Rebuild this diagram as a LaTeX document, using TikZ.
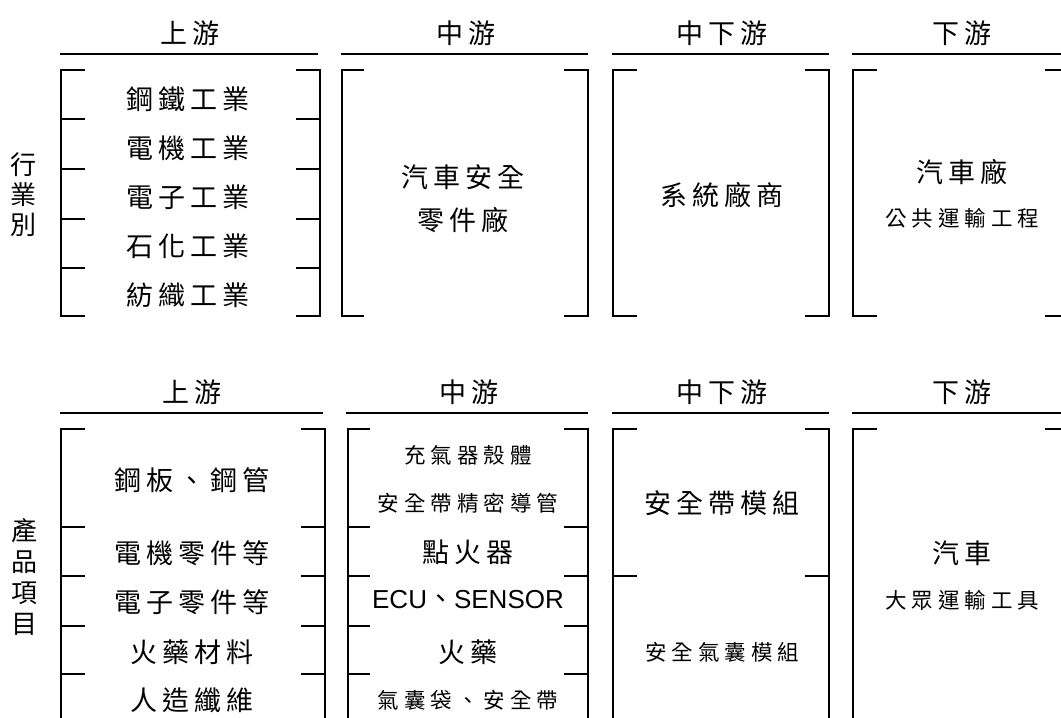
\documentclass[tikz,border=0pt]{standalone}
\usepackage{fontspec}
\setmainfont{Noto Sans CJK TC}
\newfontfamily\arialf{Liberation Sans}
\newcommand\kgap{\hspace{5pt}}
\newcommand\brbox[6]{% L R T B tickL tickR
  \draw (#1+#5,#3) -- (#1,#3) -- (#1,#4) -- (#1+#5,#4);
  \draw (#2-#6,#3) -- (#2,#3) -- (#2,#4) -- (#2-#6,#4);}
\newcommand\brdiv[5]{% L R y tickL tickR
  \draw (#1,#3) -- (#1+#4,#3);
  \draw (#2-#5,#3) -- (#2,#3);}
\tikzset{
  big/.style={font=\fontsize{27}{30}\selectfont, inner sep=0pt, anchor=center},
  small/.style={font=\fontsize{21.5}{25}\selectfont, inner sep=0pt, anchor=center},
  vert/.style={font=\fontsize{26}{30}\selectfont, inner sep=0pt, align=center, anchor=center},
}
\begin{document}
\begin{tikzpicture}[x=1pt,y=-1pt,line width=1.8pt]
\clip (0,0) rectangle (1061,718);
\fill[white] (0,0) rectangle (1061,718);
% ---------- top section ----------
\node[big] (h1) at (190,33) {上\kgap 游};
\node[big] (h2) at (466,33) {中\kgap 游};
\node[big] (h3) at (722,33) {中\kgap 下\kgap 游};
\node[big] (h4) at (962,33) {下\kgap 游};
\draw (60,54) -- (318,54);
\draw (341,54) -- (588,54);
\draw (612,54) -- (829,54);
\draw (852,54) -- (1075,54);
\brbox{61}{320}{70}{316}{24}{24}
\foreach \y in {119,169,219,268} {\brdiv{61}{320}{\y}{24}{24}}
\brbox{342}{588}{70}{316}{22}{24}
\brbox{613}{829}{70}{316}{24}{24}
\brbox{853}{1069}{70}{316}{24}{24}
\node[vert] (lab1) at (23,195) {行\\業\\別};
\node[big] (t11) at (188,99) {鋼\kgap 鐵\kgap 工\kgap 業};
\node[big] (t12) at (188,148) {電\kgap 機\kgap 工\kgap 業};
\node[big] (t13) at (188,197) {電\kgap 子\kgap 工\kgap 業};
\node[big] (t14) at (188,246) {石\kgap 化\kgap 工\kgap 業};
\node[big] (t15) at (188,295) {紡\kgap 織\kgap 工\kgap 業};
\node[big] (t21) at (463,177) {汽\kgap 車\kgap 安\kgap 全};
\node[big] (t22) at (463,220) {零\kgap 件\kgap 廠};
\node[big] (t31) at (722,195) {系\kgap 統\kgap 廠\kgap 商};
\node[big] (t41) at (962,172) {汽\kgap 車\kgap 廠};
\node[small] (t42) at (962,218) {公\kgap 共\kgap 運\kgap 輸\kgap 工\kgap 程};
% ---------- bottom section ----------
\node[big] (g1) at (192,392) {上\kgap 游};
\node[big] (g2) at (469,392) {中\kgap 游};
\node[big] (g3) at (722,392) {中\kgap 下\kgap 游};
\node[big] (g4) at (962,392) {下\kgap 游};
\draw (60,413) -- (323,413);
\draw (346,413) -- (588,413);
\draw (612,413) -- (829,413);
\draw (852,413) -- (1075,413);
\brbox{61}{325}{429}{740}{24}{24}
\foreach \y in {527,576,626,674} {\brdiv{61}{325}{\y}{24}{24}}
\brbox{348}{588}{429}{740}{22}{24}
\foreach \y in {527,576,626,674} {\brdiv{348}{588}{\y}{22}{24}}
\brbox{613}{829}{429}{740}{24}{24}
\brdiv{613}{829}{576}{24}{24}
\brbox{853}{1069}{429}{740}{24}{24}
\node[vert, font=\fontsize{26}{31}\selectfont] (lab2) at (25,577) {產\\品\\項\\目};
\node[big] (b11) at (192,480) {鋼\kgap 板\kgap 、\kgap 鋼\kgap 管};
\node[big] (b12) at (192,553) {電\kgap 機\kgap 零\kgap 件\kgap 等};
\node[big] (b13) at (192,602) {電\kgap 子\kgap 零\kgap 件\kgap 等};
\node[big] (b14) at (192,652) {火\kgap 藥\kgap 材\kgap 料};
\node[big] (b15) at (192,700) {人\kgap 造\kgap 纖\kgap 維};
\node[small] (b21) at (468,455) {充\kgap 氣\kgap 器\kgap 殼\kgap 體};
\node[small] (b22) at (468,503) {安\kgap 全\kgap 帶\kgap 精\kgap 密\kgap 導\kgap 管};
\node[big] (b23) at (468,552) {點\kgap 火\kgap 器};
\node[big] (b24) at (468,600) {{\arialf\fontsize{26}{30}\selectfont ECU}、{\arialf\fontsize{26}{30}\selectfont SENSOR}};
\node[big] (b25) at (468,652) {火\kgap 藥};
\node[small] (b26) at (468,700) {氣\kgap 囊\kgap 袋\kgap 、\kgap 安\kgap 全\kgap 帶};
\node[big] (b31) at (722,503) {安\kgap 全\kgap 帶\kgap 模\kgap 組};
\node[small] (b32) at (722,652) {安\kgap 全\kgap 氣\kgap 囊\kgap 模\kgap 組};
\node[big] (b41) at (962,553) {汽\kgap 車};
\node[small] (b42) at (962,600) {大\kgap 眾\kgap 運\kgap 輸\kgap 工\kgap 具};
\end{tikzpicture}
\end{document}
